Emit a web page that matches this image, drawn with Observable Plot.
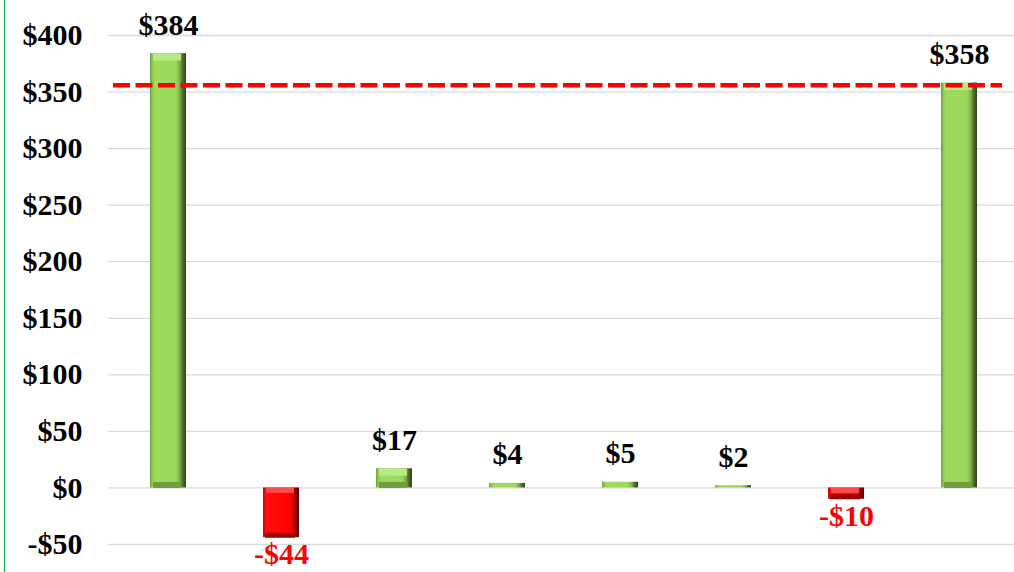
<!DOCTYPE html>
<html><head><meta charset="utf-8">
<script src="https://cdn.jsdelivr.net/npm/d3@7"></script>
<script src="https://cdn.jsdelivr.net/npm/@observablehq/plot@0.6"></script>
<style>
body{margin:0;background:#fff;}
#wrap{position:relative;width:1014px;height:572px;overflow:hidden;background:#fff;}
#edge{position:absolute;left:4px;top:0;width:1px;height:572px;background:#00b050;}
</style></head><body><div id="wrap"><div id="edge"></div></div>
<script>
// ---- data ----
const categories = ["Start", "Step 1", "Step 2", "Step 3", "Step 4", "Step 5", "Step 6", "End"];
const values = [384, -44, 17, 4, 5, 2, -10, 358];
const referenceLine = [356];
const yTicks = [-50, 0, 50, 100, 150, 200, 250, 300, 350, 400];

const data = categories.map((c, i) => ({category: c, value: values[i]}));
const fmt = d => d < 0 ? `-$${-d}` : `$${d}`;
const pos = data.filter(d => d.value >= 0);
const neg = data.filter(d => d.value < 0);
const big = d => Math.abs(d.value) > 8;

const font = {fontFamily: "Liberation Serif, Times New Roman, serif", fontWeight: "bold", fontSize: 30};

const chart = Plot.plot({
  width: 1014, height: 572,
  marginLeft: 108, marginRight: 0, marginTop: 35, marginBottom: 28,
  x: {domain: categories, range: [109, 1018], paddingInner: 0.68, paddingOuter: 0.34, axis: null},
  y: {domain: [-50, 400], range: [544, 35], axis: null, label: null},
  style: {fontFamily: "Liberation Serif, serif", color: "#000", background: "#fff", overflow: "visible"},
  marks: [
    Plot.gridY(yTicks, {stroke: "#d9d9d9", strokeOpacity: 1, strokeWidth: 1.3}),
    Plot.axisY(yTicks, {tickSize: 0, tickPadding: 26, tickFormat: fmt, label: null, ...font}),
    // bars
    Plot.barY(pos, {x: "category", y: "value", fill: "url(#gGreen)"}),
    Plot.barY(neg, {x: "category", y: "value", fill: "url(#gRed)"}),
    // bevel highlights
    Plot.tickY(pos.filter(big), {x: "category", y: "value", stroke: "#b9e889", strokeWidth: 7, dy: 3.5, insetLeft: 3, insetRight: 5}),
    Plot.tickY(pos.filter(big), {x: "category", y: d => 0, stroke: "#6f9e3a", strokeWidth: 6, dy: -3, insetLeft: 3, insetRight: 5}),
    Plot.tickY(neg.filter(big), {x: "category", y: "value", stroke: "#a00000", strokeWidth: 5, dy: -2.5, insetLeft: 2, insetRight: 4}),
    Plot.tickY(neg.filter(big), {x: "category", y: d => 0, stroke: "#ff4a4a", strokeWidth: 5, dy: 2.5, insetLeft: 3, insetRight: 5}),
    // reference dashed line
    Plot.ruleY(referenceLine, {stroke: "#ff0000", strokeWidth: 4.5, strokeDasharray: "17,5.5", insetLeft: 5, insetRight: 12}),
    // labels
    Plot.text(pos, {x: "category", y: "value", text: d => fmt(d.value), lineAnchor: "bottom", dy: -19, fill: "#000", ...font}),
    Plot.text(neg, {x: "category", y: "value", text: d => fmt(d.value), lineAnchor: "top", dy: 5, fill: "#ff0000", ...font})
  ]
});

// gradients for the bevelled bars
const defs = d3.select(chart).insert("defs", ":first-child");
function grad(id, stops) {
  const g = defs.append("linearGradient").attr("id", id)
    .attr("x1", "0").attr("x2", "1").attr("y1", "0").attr("y2", "0");
  stops.forEach(([o, c]) => g.append("stop").attr("offset", o).attr("stop-color", c));
}
grad("gGreen", [["0%", "#6f9c3c"], ["6%", "#8cc451"], ["14%", "#9edb5d"], ["72%", "#9ad85a"], ["82%", "#82b24a"], ["90%", "#51722b"], ["100%", "#2e4318"]]);
grad("gRed", [["0%", "#c40000"], ["8%", "#ff1010"], ["76%", "#ff0000"], ["86%", "#b80000"], ["100%", "#560000"]]);

document.getElementById("wrap").prepend(chart);
</script>
</body></html>
